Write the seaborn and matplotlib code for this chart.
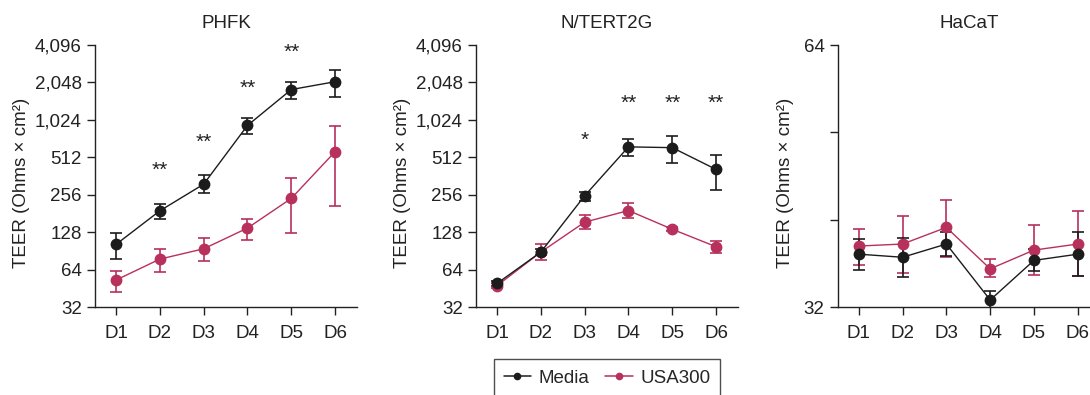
import numpy as np
import pandas as pd
import matplotlib
matplotlib.use("Agg")
import matplotlib.pyplot as plt
import seaborn as sns

days = ["D1", "D2", "D3", "D4", "D5", "D6"]
series_names = ["Media", "USA300"]

# PHFK
phfk_media = [102, 190, 311, 923, 1795, 2075]
phfk_media_lo = [78, 163, 263, 787, 1520, 1550]
phfk_media_hi = [125, 217, 367, 1065, 2060, 2575]
phfk_usa = [52.7, 77.7, 94, 138, 239, 568]
phfk_usa_lo = [42, 61, 74.5, 111, 127, 208]
phfk_usa_hi = [61.8, 93.5, 114, 164, 352, 916]

# N/TERT2G
nt_media = [49.5, 88.5, 251, 621, 612, 409]
nt_media_lo = [47.5, 84, 229, 526, 458, 277]
nt_media_hi = [51.5, 93, 270, 714, 765, 536]
nt_usa = [47.5, 88.5, 154, 191, 135, 97.7]
nt_usa_lo = [45.5, 76, 135, 167, 130, 87]
nt_usa_hi = [49.5, 102, 175, 218, 140, 108]

# HaCaT
hc_media = [36.8, 36.5, 37.8, 32.6, 36.2, 36.8]
hc_media_lo = [35.3, 34.6, 36.6, 31.8, 35.2, 34.7]
hc_media_hi = [38.3, 38.4, 39.0, 33.4, 37.3, 39.0]
hc_usa = [37.6, 37.8, 39.5, 35.4, 37.2, 37.8]
hc_usa_lo = [35.8, 35.0, 36.5, 34.6, 34.8, 34.7]
hc_usa_hi = [39.3, 40.7, 42.5, 36.3, 39.8, 41.2]

titles = ["PHFK", "N/TERT2G", "HaCaT"]
ticks_big = [32, 64, 128, 256, 512, 1024, 2048, 4096]
ticks_small = [32, 64]

# significance annotations: (day index, label)
phfk_stars = [(1, "**"), (2, "**"), (3, "**"), (4, "**")]
nt_stars = [(2, "*"), (3, "**"), (4, "**"), (5, "**")]
hc_stars = []

panels = [
    dict(media=(phfk_media, phfk_media_lo, phfk_media_hi),
         usa=(phfk_usa, phfk_usa_lo, phfk_usa_hi), stars=phfk_stars,
         ticks=ticks_big, star_y=[400, 680, 1820, 3600], ylab_x=-0.279),
    dict(media=(nt_media, nt_media_lo, nt_media_hi),
         usa=(nt_usa, nt_usa_lo, nt_usa_hi), stars=nt_stars,
         ticks=ticks_big, star_y=[700, 1380, 1380, 1380], ylab_x=-0.279),
    dict(media=(hc_media, hc_media_lo, hc_media_hi),
         usa=(hc_usa, hc_usa_lo, hc_usa_hi), stars=hc_stars,
         ticks=ticks_small, star_y=[], ylab_x=-0.201),
]

sns.set_theme(style="ticks")
plt.rcParams['font.family'] = ['Liberation Sans', 'DejaVu Sans']
FS = 13.5
plt.rcParams['font.size'] = FS

colors = {"Media": "#1c1c1c", "USA300": "#b8305c"}
ink = "#222222"

fig = plt.figure(figsize=(10.9, 3.95), dpi=100)
W, H = 1090, 395
lefts = [95, 476, 837.7]
axes = [fig.add_axes([l / W, 1 - 307 / H, 262 / W, 262 / H]) for l in lefts]

x = np.arange(len(days))
for i, (ax, p) in enumerate(zip(axes, panels)):
    for name, key in [("USA300", "usa"), ("Media", "media")]:
        vals, lo, hi = p[key]
        vals = np.array(vals); lo = np.array(lo); hi = np.array(hi)
        c = colors[name]
        ax.errorbar(x, vals, yerr=[vals - lo, hi - vals], fmt="none",
                    ecolor=c, elinewidth=1.2, capsize=4, capthick=1.2, zorder=2)
        df = pd.DataFrame({"x": x, "y": vals})
        sns.lineplot(data=df, x="x", y="y", ax=ax, color=c, marker="o",
                     markersize=8.5, markeredgewidth=0, linewidth=1.0,
                     zorder=3, label=name, legend=False)
    ax.set_yscale("log", base=2)
    t = p["ticks"]
    ax.set_ylim(t[0], t[-1])
    ax.set_yticks(t)
    ax.set_yticklabels([f"{v:,}" for v in t])
    ax.yaxis.set_minor_locator(matplotlib.ticker.NullLocator())
    if i == 2:
        ax.set_yticks([2 ** (16 / 3), 2 ** (17 / 3)], minor=True)
        ax.yaxis.set_minor_formatter(matplotlib.ticker.NullFormatter())
    ax.set_xlim(-0.48, 5.5)
    ax.set_xticks(x)
    ax.set_xticklabels(days)
    ax.set_xlabel("")
    ax.set_ylabel("TEER (Ohms × cm²)", fontsize=FS, color=ink)
    ax.yaxis.set_label_coords(p["ylab_x"], 0.472)
    ax.yaxis.label.set_va("center")
    ax.set_title(titles[i], fontsize=FS, pad=12, color=ink)
    for s in ["top", "right"]:
        ax.spines[s].set_visible(False)
    for s in ["left", "bottom"]:
        ax.spines[s].set_linewidth(1.0)
        ax.spines[s].set_color(ink)
    ax.tick_params(axis="both", which="both", direction="out", length=6,
                   width=1.0, color=ink, labelsize=FS, labelcolor=ink)
    ax.tick_params(axis="x", pad=7)
    for (d, lab), yy in zip(p["stars"], p["star_y"]):
        ax.text(d, yy, lab, ha="center", va="center", fontsize=15, color=ink)

h = [matplotlib.lines.Line2D([], [], color=colors[n], marker="o", markersize=5.5,
                              markeredgewidth=0, linewidth=1.1) for n in series_names]
leg = fig.legend(h, series_names, loc="center", bbox_to_anchor=(607 / W, 1 - 378 / H),
                 ncol=2, frameon=True, fontsize=FS, handlelength=1.45,
                 columnspacing=0.85, handletextpad=0.4, fancybox=False,
                 borderpad=0.55)
leg.get_frame().set_edgecolor(ink)
leg.get_frame().set_linewidth(1.0)

fig.savefig("out.png", dpi=100)
